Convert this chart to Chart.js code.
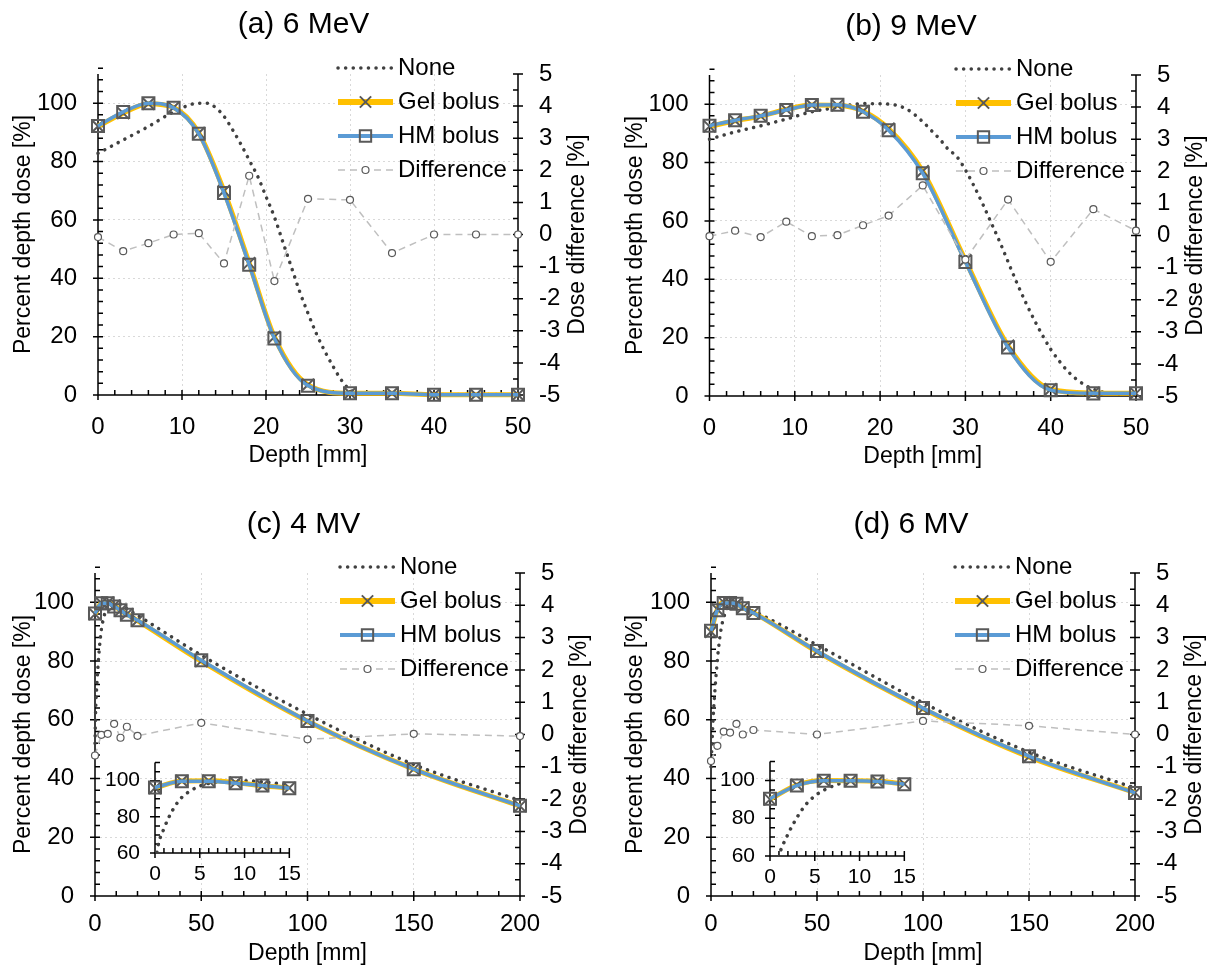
<!DOCTYPE html>
<html>
<head>
<meta charset="utf-8">
<script src="https://cdn.jsdelivr.net/npm/chart.js@4.4.1/dist/chart.umd.min.js"></script>
<style>
  body { margin: 0; background: #fff; width: 1215px; height: 974px; position: relative; overflow: hidden; }
  canvas { position: absolute; }
</style>
</head>
<body>
<canvas id="pa" width="607" height="487" style="left:0;top:0"></canvas>
<canvas id="pb" width="608" height="487" style="left:607px;top:0"></canvas>
<canvas id="pc" width="607" height="487" style="left:0;top:487px"></canvas>
<canvas id="pd" width="608" height="487" style="left:607px;top:487px"></canvas>
<canvas id="ic" width="210" height="175" style="left:100px;top:735px"></canvas>
<canvas id="id" width="210" height="175" style="left:715px;top:734px"></canvas>
<script>
// electron beams: measured depths [mm]
const depthE = [0, 3, 6, 9, 12, 15, 18, 21, 25, 30, 35, 40, 45, 50];

// (a) 6 MeV
const gelE6  = [92.1, 96.6, 99.8, 98.5, 89.8, 69.9, 45.2, 19.9, 3.5, 0.6, 0.6, 0.1, 0.1, 0.1];
const hmE6   = [92.2, 97.0, 100, 98.4, 89.5, 69.2, 44.6, 19.4, 3.2, 0.6, 0.6, 0.1, 0.1, 0.1];
const diffE6 = [-0.08, -0.52, -0.27, 0.0, 0.04, -0.9, 1.83, -1.45, 1.11, 1.08, -0.58, 0, 0, 0];
const noneE6Depth = [0, 3, 6, 9, 12, 13, 14, 15, 16, 17, 18, 19, 20, 21, 22, 23, 24, 25, 26, 27, 28, 29, 30, 31, 35, 40, 50];
const noneE6 = [82.8, 87.4, 92, 97, 100, 100, 98.5, 95.5, 91, 86, 80.5, 75, 68, 61, 52.5, 44, 35.5, 28, 21, 15, 9.7, 5, 1.8, 0.6, 0.3, 0.2, 0.2];

// (b) 9 MeV
const gelE9  = [92.4, 94.3, 95.9, 98.2, 99.7, 99.6, 97.6, 91.6, 77.0, 46.5, 17.2, 2.3, 1.0, 0.9];
const hmE9   = [92.6, 94.5, 96.0, 98.0, 99.7, 99.8, 97.4, 91.1, 76.3, 45.9, 16.6, 2.0, 0.9, 0.9];
const diffE9 = [-0.02, 0.15, -0.05, 0.43, -0.02, 0.01, 0.32, 0.62, 1.56, -0.75, 1.12, -0.82, 0.82, 0.15];
const noneE9Depth = [0, 3, 6, 9, 12, 15, 18, 21, 23, 25, 26, 27, 28, 29, 30, 31, 32, 33, 34, 35, 36, 37, 38, 39, 40, 41, 42, 43, 44, 45, 46, 48, 50];
const noneE9 = [88, 90.5, 92.6, 94.9, 97.4, 98.9, 100.2, 100, 98.5, 94, 91, 88, 84.5, 82, 77.5, 72, 66, 59.5, 53, 46, 39, 32.5, 26.5, 21, 16, 12, 8.5, 5.8, 3.8, 2.3, 1.4, 0.8, 0.6];

// photon beams: measured depths [mm]
const depthX = [0, 3, 6, 9, 12, 15, 20, 50, 100, 150, 200];

// (c) 4 MV
const gelX4  = [96.0, 99.8, 99.9, 98.9, 97.2, 96.0, 93.8, 80.0, 59.5, 43.2, 30.6];
const hmX4   = [96.2, 99.7, 99.7, 98.6, 97.3, 95.8, 93.9, 80.3, 59.6, 43.2, 30.7];
const diffX4 = [-0.65, -0.01, 0.02, 0.33, -0.1, 0.24, -0.04, 0.36, -0.15, 0.02, -0.05];
const noneX4Depth = [0, 0.3, 1, 2, 3, 4, 5, 6, 8, 10, 12, 15, 20, 50, 100, 150, 200];
const noneX4 = [52, 63, 73.5, 84, 90.8, 94.5, 97, 98.5, 99.7, 100, 99.3, 97.8, 95.6, 82, 61.9, 44.8, 32.5];

// (d) 6 MV
const gelX6  = [90.0, 97.6, 100, 99.9, 99.6, 98.2, 96.5, 83.2, 63.8, 47.4, 35.2];
const hmX6   = [90.3, 97.3, 99.8, 99.8, 99.5, 98.0, 96.4, 83.4, 64.0, 47.6, 35.1];
const diffX6 = [-0.82, -0.35, 0.09, 0.06, 0.33, 0.0, 0.14, 0.0, 0.42, 0.27, 0.0];
const noneX6Depth = [0, 0.5, 1, 2, 3, 4, 5, 6, 7, 8, 10, 12, 15, 20, 50, 100, 150, 200];
const noneX6 = [44, 52, 60.5, 71.5, 80.3, 87.2, 91.8, 94.8, 97, 98.6, 99.7, 100, 98.3, 97, 85.5, 65.8, 49, 36.8];

const FONT = "'Liberation Sans', Arial, sans-serif";
const GRID = '#D9D9D9';
const NONE = 'rgba(0,0,0,0)';

const pts = (xs, ys) => xs.map((x, i) => ({ x: x, y: ys[i] }));

// Excel-like axis lines with cross/inside tick marks
const axisMarks = {
  id: 'axisMarks',
  beforeDatasetsDraw(chart, args, opts) {
    if (!opts.steps) return;
    const ctx = chart.ctx, a = chart.chartArea;
    ctx.save();
    ctx.strokeStyle = '#000';
    ctx.lineWidth = 1.5;
    ctx.setLineDash([]);
    ctx.beginPath();
    for (const id of ['x', 'y', 'y2']) {
      const st = opts.steps[id];
      const s = chart.scales[id];
      if (!st || !s) continue;
      const n = Math.round((s.max - s.min) / st.minor);
      const isMajor = v => Math.abs(v / st.major - Math.round(v / st.major)) < 1e-6;
      if (s.isHorizontal()) {
        const y0 = a.bottom;
        ctx.moveTo(a.left, y0); ctx.lineTo(a.right, y0);
        for (let i = 0; i <= n; i++) {
          const v = s.min + i * st.minor, p = s.getPixelForValue(v);
          ctx.moveTo(p, y0 - 5); ctx.lineTo(p, isMajor(v) ? y0 + 5 : y0);
        }
      } else {
        const left = s.position === 'left';
        const x0 = left ? a.left : a.right, d = left ? 1 : -1;
        ctx.moveTo(x0, a.top); ctx.lineTo(x0, a.bottom);
        for (let i = 0; i <= n; i++) {
          const v = s.min + i * st.minor, p = s.getPixelForValue(v);
          ctx.moveTo(x0 + d * 5, p); ctx.lineTo(isMajor(v) ? x0 - d * 5 : x0, p);
        }
      }
    }
    ctx.stroke();
    ctx.restore();
  }
};

function marker(ctx, style, x, y, r) {
  ctx.beginPath();
  if (style === 'crossRot') {
    const o = r * Math.SQRT1_2;
    ctx.moveTo(x - o, y - o); ctx.lineTo(x + o, y + o);
    ctx.moveTo(x - o, y + o); ctx.lineTo(x + o, y - o);
  } else if (style === 'rect') {
    const o = r * Math.SQRT1_2;
    ctx.rect(x - o, y - o, 2 * o, 2 * o);
  } else {
    ctx.arc(x, y, r, 0, Math.PI * 2);
    ctx.fill();
  }
  ctx.stroke();
}

// legend in the top-right corner and the right axis title
const seriesKey = {
  id: 'seriesKey',
  afterDraw(chart, args, opts) {
    if (!opts.show) return;
    const ctx = chart.ctx, a = chart.chartArea;
    ctx.save();
    const lx = a.right + opts.dx;
    chart.data.datasets.forEach((d, i) => {
      const y = a.top + opts.dy + i * opts.gap;
      ctx.setLineDash(d.borderDash || []);
      ctx.lineCap = d.borderCapStyle || 'butt';
      ctx.strokeStyle = d.borderColor;
      ctx.lineWidth = d.key || d.borderWidth;
      ctx.beginPath(); ctx.moveTo(lx, y); ctx.lineTo(lx + 55, y); ctx.stroke();
      ctx.setLineDash([]); ctx.lineCap = 'butt';
      if (d.pointRadius) {
        ctx.strokeStyle = d.pointBorderColor;
        ctx.fillStyle = d.pointBackgroundColor;
        ctx.lineWidth = d.pointBorderWidth;
        marker(ctx, d.pointStyle, lx + 27.5, y, d.pointStyle === 'circle' ? 3.5 : 8);
      }
      ctx.fillStyle = '#000';
      ctx.font = '24px ' + FONT;
      ctx.textAlign = 'left'; ctx.textBaseline = 'middle';
      ctx.fillText(d.label, lx + 60, y);
    });
    ctx.font = '23px ' + FONT;
    ctx.translate(a.right + opts.titleDx, (a.top + a.bottom) / 2);
    ctx.rotate(-Math.PI / 2);
    ctx.textAlign = 'center'; ctx.textBaseline = 'middle';
    ctx.fillText('Dose difference [%]', 0, 0);
    ctx.restore();
  }
};

Chart.register(axisMarks, seriesKey);

function curveSets(noneD, noneV, depth, gel, hm, diff) {
  return [
    { label: 'None', data: pts(noneD, noneV), borderColor: '#404040', borderWidth: 3.5,
      borderDash: [0.1, 7.5], borderCapStyle: 'round', pointRadius: 0, order: 3,
      cubicInterpolationMode: 'monotone' },
    { label: 'Gel bolus', data: pts(depth, gel), borderColor: '#FFC000', borderWidth: 5, key: 6,
      pointStyle: 'crossRot', pointRadius: 8.5, pointBorderColor: '#595959', pointBorderWidth: 2,
      pointBackgroundColor: NONE, order: 2, cubicInterpolationMode: 'monotone' },
    { label: 'HM bolus', data: pts(depth, hm), borderColor: '#5B9BD5', borderWidth: 3.5, key: 4,
      pointStyle: 'rect', pointRadius: 8.5, pointBorderColor: '#595959', pointBorderWidth: 2,
      pointBackgroundColor: NONE, order: 1, cubicInterpolationMode: 'monotone' },
    { label: 'Difference', data: pts(depth, diff), yAxisID: 'y2', borderColor: '#BFBFBF', borderWidth: 1.5,
      borderDash: [7, 5], pointStyle: 'circle', pointRadius: 3.5, pointBorderColor: '#595959',
      pointBorderWidth: 1.2, pointBackgroundColor: '#fff', order: 0, tension: 0 }
  ].map(d => Object.assign({ fill: false, clip: false }, d));
}

function mainChart(id, p, datasets) {
  return new Chart(document.getElementById(id), {
    type: 'line',
    data: { datasets: datasets },
    options: {
      responsive: false, animation: false, devicePixelRatio: 1,
      layout: { padding: 0 },
      plugins: {
        legend: { display: false },
        tooltip: { enabled: false },
        title: { display: true, text: p.title, color: '#000', font: { family: FONT, size: 30, weight: 'normal' },
                 padding: { top: p.tTop - 1.2, bottom: p.tBottom - 1.2 } },
        axisMarks: { steps: { x: { major: p.xMajor, minor: p.xMinor }, y: { major: 20, minor: 4 }, y2: { major: 1, minor: 0.5 } } },
        seriesKey: { show: true, dx: -180, dy: -6, gap: 34, titleDx: 60 }
      },
      scales: {
        x: {
          type: 'linear', min: 0, max: p.xMax,
          afterFit: s => { s.height = p.xH; },
          ticks: { stepSize: p.xMajor, autoSkip: false, maxRotation: 0, padding: p.xPad, color: '#000', font: { family: FONT, size: 24 } },
          grid: { drawTicks: false, lineWidth: 1, color: c => (c.tick && c.tick.value > 0 && c.tick.value < p.xMax) ? GRID : NONE },
          border: { display: false, dash: [2, 3] },
          title: { display: true, text: 'Depth [mm]', color: '#000', font: { family: FONT, size: 23 }, padding: { top: 0, bottom: p.xTitlePad } }
        },
        y: {
          position: 'left', min: 0, max: 110,
          afterFit: s => { s.width = p.yW; },
          afterBuildTicks: s => { s.ticks = s.ticks.filter(t => t.value <= 100); },
          ticks: { stepSize: 20, includeBounds: false, autoSkip: false, padding: 21, color: '#000', font: { family: FONT, size: 24 } },
          grid: { drawTicks: false, lineWidth: 1, color: c => (c.tick && c.tick.value > 0 && c.tick.value <= 100) ? GRID : NONE },
          border: { display: false, dash: [2, 3] },
          title: { display: true, text: 'Percent depth dose [%]', color: '#000', font: { family: FONT, size: 23 }, padding: { top: p.yTitlePad, bottom: 0 } }
        },
        y2: {
          position: 'right', min: -5, max: 5,
          afterFit: s => { s.width = p.y2W; },
          ticks: { stepSize: 1, autoSkip: false, padding: 21, color: '#000', font: { family: FONT, size: 24 } },
          grid: { display: false, drawTicks: false, drawOnChartArea: false },
          border: { display: false }
        }
      }
    }
  });
}

function insetChart(id, p, datasets) {
  return new Chart(document.getElementById(id), {
    type: 'line',
    data: { datasets: datasets },
    options: {
      responsive: false, animation: false, devicePixelRatio: 1,
      layout: { padding: { top: 13, right: p.padR, left: 0, bottom: 0 } },
      plugins: {
        legend: { display: false },
        tooltip: { enabled: false },
        axisMarks: { steps: { x: { major: 5, minor: 1 }, y: { major: 20, minor: 5 } } }
      },
      scales: {
        x: {
          type: 'linear', min: 0, max: 15,
          afterFit: s => { s.height = p.xH; },
          ticks: { stepSize: 5, autoSkip: false, maxRotation: 0, padding: 9, color: '#000', font: { family: FONT, size: 21 } },
          grid: { display: false, drawTicks: false },
          border: { display: false }
        },
        y: {
          position: 'left', min: 60, max: 110,
          afterFit: s => { s.width = 55; },
          afterBuildTicks: s => { s.ticks = s.ticks.filter(t => t.value <= 100); },
          ticks: { stepSize: 20, includeBounds: false, autoSkip: false, padding: 15, color: '#000', font: { family: FONT, size: 21 } },
          grid: { display: false, drawTicks: false },
          border: { display: false }
        }
      }
    }
  });
}

function insetSets(noneD, noneV, depth, gel, hm) {
  const sets = curveSets(noneD, noneV, depth.slice(0, 6), gel.slice(0, 6), hm.slice(0, 6), []).slice(0, 3);
  sets[0].clip = 1;
  return sets;
}

mainChart('pa', { title: '(a) 6 MeV', tTop: 8, tBottom: 32.4, xMax: 50, xMajor: 10, xMinor: 2, xH: 92, xPad: 18, xTitlePad: 18, yW: 98, y2W: 89, yTitlePad: 10 },
  curveSets(noneE6Depth, noneE6, depthE, gelE6, hmE6, diffE6));
mainChart('pb', { title: '(b) 9 MeV', tTop: 10, tBottom: 31.4, xMax: 50, xMajor: 10, xMinor: 2, xH: 91, xPad: 18, xTitlePad: 17, yW: 102.5, y2W: 79, yTitlePad: 15 },
  curveSets(noneE9Depth, noneE9, depthE, gelE9, hmE9, diffE9));
mainChart('pc', { title: '(c) 4 MV', tTop: 21, tBottom: 31.4, xMax: 200, xMajor: 50, xMinor: 10, xH: 78, xPad: 14, xTitlePad: 7, yW: 95, y2W: 87, yTitlePad: 10 },
  curveSets(noneX4Depth, noneX4, depthX, gelX4, hmX4, diffX4));
mainChart('pd', { title: '(d) 6 MV', tTop: 21, tBottom: 31.4, xMax: 200, xMajor: 50, xMinor: 10, xH: 78, xPad: 14, xTitlePad: 7, yW: 104, y2W: 80, yTitlePad: 15 },
  curveSets(noneX6Depth, noneX6, depthX, gelX6, hmX6, diffX6));

insetChart('ic', { padR: 14, xH: 57 }, insetSets(noneX4Depth, noneX4, depthX, gelX4, hmX4));
insetChart('id', { padR: 16, xH: 53 }, insetSets(noneX6Depth, noneX6, depthX, gelX6, hmX6));
</script>
</body>
</html>
